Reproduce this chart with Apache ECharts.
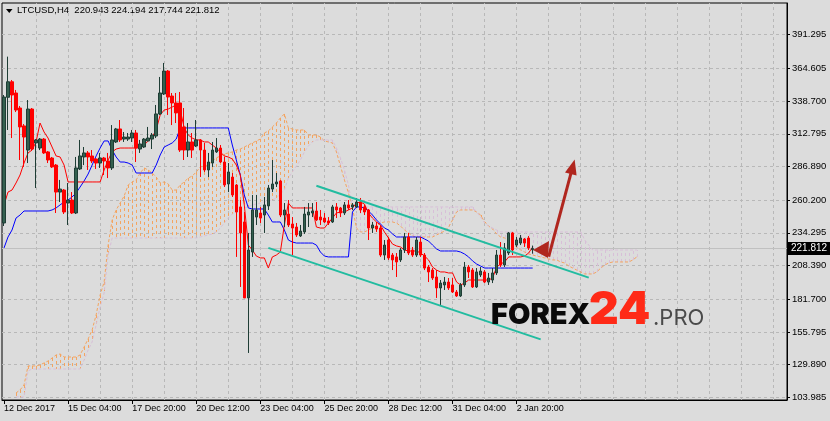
<!DOCTYPE html>
<html><head><meta charset="utf-8">
<script src="https://cdn.jsdelivr.net/npm/echarts@6/dist/echarts.min.js"></script>
<style>html,body{margin:0;padding:0;background:#dcdcdc}#c{width:830px;height:421px}</style>
</head><body><div id="c"></div>
<script>
// ---- data ----
const tickLabels = ['12 Dec 2017','15 Dec 04:00','17 Dec 20:00','20 Dec 12:00','23 Dec 04:00','25 Dec 20:00','28 Dec 12:00','31 Dec 04:00','2 Jan 20:00'];
const tickBars = [0,16,32,48,64,80,96,112,128];
const yTicks = [103.985,129.890,155.795,181.700,208.390,234.295,260.200,286.890,312.795,338.700,364.605,391.295];
const titleText = 'LTCUSD,H4  220.943 224.194 217.744 221.812';
const lastClose = 221.812;
// [open, close, low, high]
const ohlc = [
[242.1,341.9,239.7,343.5],[341.7,354.0,315.8,373.9],[354.0,343.5,309.4,355.4],[345.1,331.6,330.0,347.5],[333.2,318.2,292.0,334.8],
[319.0,310.2,286.5,320.5],[299.9,332.4,289.6,339.5],[332.4,300.7,299.1,333.2],[305.5,307.9,269.8,308.6],[301.5,308.6,299.9,309.4],
[308.6,297.6,296.8,309.4],[298.4,292.0,289.6,299.1],[293.6,286.5,285.7,294.4],[288.0,266.6,250.0,288.8],[266.6,269.0,258.7,276.2],
[268.2,250.8,249.2,269.0],[257.9,260.3,240.5,273.8],[260.3,250.0,249.2,266.6],[250.0,285.7,249.2,294.4],[284.9,295.2,284.1,307.9],
[294.4,297.6,288.0,302.3],[297.6,294.4,284.1,299.1],[295.2,291.2,289.6,299.9],[292.8,289.6,284.9,293.6],[289.6,293.6,285.7,297.6],
[293.6,291.2,280.1,294.4],[291.2,285.7,277.7,297.6],[285.7,307.9,284.1,319.7],[306.3,316.6,305.5,317.4],[316.6,307.9,306.3,323.7],
[308.6,310.2,306.3,314.2],[308.6,310.2,307.1,313.4],[309.4,313.4,306.3,315.8],[313.4,301.5,290.4,315.8],[300.7,304.7,297.6,307.9],
[302.3,308.6,301.5,309.4],[307.1,309.4,307.1,318.2],[308.6,311.8,300.7,313.4],[311.0,328.5,309.4,335.6],[328.5,345.1,327.7,357.8],
[344.3,362.5,343.5,368.9],[362.5,341.9,327.7,363.3],[342.7,337.2,319.7,345.1],[337.2,329.3,321.3,345.1],[337.2,299.9,298.4,345.9],
[318.2,299.9,292.0,333.2],[299.9,306.3,294.4,321.3],[306.3,299.9,293.6,313.4],[303.1,307.9,302.3,323.7],[307.9,299.9,278.5,308.6],
[299.9,284.1,282.5,305.5],[284.1,290.4,278.5,297.6],[289.6,299.9,286.5,306.3],[298.4,301.5,297.6,309.4],[301.5,290.4,289.6,303.9],
[290.4,272.2,270.6,294.4],[273.0,282.5,266.6,289.6],[278.5,264.3,262.7,281.7],[272.2,250.8,215.2,273.0],[254.8,234.2,191.4,260.3],
[242.9,182.7,182.7,250.8],[182.7,220.7,139.1,234.2],[219.1,252.4,215.2,264.3],[246.8,252.4,240.5,264.3],[250.0,246.0,242.1,254.8],
[248.4,256.4,234.2,262.7],[255.6,269.8,252.4,272.2],[269.0,273.0,266.6,292.0],[273.0,274.6,270.6,281.7],[275.4,248.4,246.8,276.2],
[248.4,252.4,238.9,257.9],[249.2,240.5,238.9,260.3],[241.3,238.1,216.7,246.8],[238.9,232.6,231.0,242.1],[231.8,235.7,231.0,240.5],
[235.0,249.2,233.4,254.8],[248.4,250.8,238.9,257.9],[250.0,251.6,246.8,257.9],[251.6,244.5,243.7,258.7],[246.8,244.5,240.5,252.4],
[246.0,242.9,242.1,250.0],[243.7,242.1,240.5,246.8],[242.9,254.8,242.1,256.4],[254.8,252.4,246.0,257.9],[254.0,250.0,246.8,254.8],
[250.0,256.4,248.4,258.7],[256.4,254.0,252.4,260.3],[254.8,256.4,252.4,257.9],[254.8,258.7,254.0,261.9],[258.7,252.4,250.0,261.9],
[254.8,250.8,248.4,256.4],[252.4,238.1,228.6,253.2],[238.1,240.5,234.2,242.9],[239.7,237.3,235.0,242.9],[238.1,216.7,215.2,240.5],
[216.7,224.6,212.8,228.6],[228.6,214.4,212.8,231.0],[216.7,212.8,204.8,218.3],[215.2,211.2,199.3,218.3],[212.8,220.7,211.2,222.3],
[220.7,231.0,218.3,234.2],[231.0,218.3,216.7,234.2],[220.7,216.7,215.2,223.1],[216.7,228.6,215.2,231.0],[227.0,216.7,215.2,231.0],
[216.7,206.4,204.8,218.3],[207.2,203.3,195.3,208.8],[204.8,198.5,196.9,206.4],[199.3,190.6,182.7,204.8],[190.6,194.5,177.1,196.9],
[193.0,195.3,189.0,199.3],[195.3,190.6,189.0,198.5],[193.0,187.4,186.6,198.5],[187.4,184.3,183.5,189.0],[184.3,193.0,183.5,194.5],
[193.0,207.2,191.4,211.2],[207.2,203.3,198.5,208.8],[204.8,191.4,190.6,206.4],[191.4,203.3,190.6,206.4],[200.9,204.0,199.3,207.2],
[203.3,195.3,194.5,204.8],[195.3,198.5,193.0,202.5],[196.9,202.5,194.5,206.4],[202.5,216.7,200.9,220.7],[216.7,208.8,207.2,227.0],
[208.8,222.3,207.2,226.2],[218.3,234.2,216.7,235.0],[234.2,220.7,216.7,235.0],[224.6,228.6,223.1,231.0],[226.2,230.2,224.6,232.6],
[229.4,226.2,223.1,230.2],[230.2,222.3,220.7,231.8],[220.943,221.812,217.744,224.194]
];
const tenkan = [
256.3,266.6,268.2,273.8,280.1,289.6,297.6,299.9,306.3,321.3,
314.2,309.4,302.3,295.2,294.4,288.0,274.6,274.6,274.6,274.6,
274.6,274.6,274.6,274.6,274.6,284.1,292.0,298.4,300.7,301.5,
301.5,301.5,301.5,301.5,302.3,303.9,307.1,310.2,315.8,327.7,
331.6,332.4,334.0,335.6,331.6,317.4,311.8,309.4,307.9,307.9,
306.3,306.3,303.9,301.5,298.4,295.2,294.4,292.8,288.0,280.1,
256.3,224.6,220.7,215.9,214.4,214.4,206.4,215.2,216.7,219.1,
240.5,257.9,254.0,254.0,254.0,254.0,254.0,254.0,238.9,238.1,
238.1,242.1,246.0,250.0,250.8,250.8,252.4,254.0,257.9,258.7,
257.1,250.0,246.0,242.9,240.5,234.9,230.2,225.4,223.9,223.1,
220.7,219.9,219.9,219.9,218.3,215.9,212.8,207.2,204.8,203.3,
203.3,202.5,202.5,195.3,193.0,194.5,196.9,196.9,196.9,196.9,
196.9,196.9,198.5,207.2,209.6,211.2,215.2,215.2,215.2,215.2,
215.9,218.3,223.1
];
const kijun = [
222.3,231.0,236.5,246.0,248.4,251.6,251.6,251.6,251.6,251.6,
251.6,251.6,252.4,254.0,256.4,258.7,260.3,262.7,265.9,270.6,
275.4,280.9,288.0,295.2,301.5,307.1,307.1,299.9,294.4,290.4,
290.4,289.6,288.0,281.7,281.7,281.7,281.7,281.7,288.0,296.0,
302.3,303.9,305.5,308.6,317.4,317.4,317.4,317.4,317.4,317.4,
317.4,317.4,317.4,317.4,317.4,317.4,317.4,303.9,292.0,280.1,
264.3,254.0,253.2,253.2,253.2,253.2,248.4,242.9,242.9,242.9,
236.5,228.6,227.0,226.2,226.2,226.2,226.2,226.2,224.6,219.1,
215.9,215.2,215.2,215.2,215.2,215.2,215.2,250.8,254.8,254.8,
254.0,251.6,248.4,244.5,241.3,238.1,236.5,233.4,231.0,231.0,
231.0,231.0,231.0,231.0,231.0,229.4,227.8,224.6,221.5,219.9,
219.9,219.9,219.9,219.9,219.1,217.5,215.2,212.0,209.6,208.0,
206.4,206.4,206.4,206.4,206.4,206.4,206.4,206.4,206.4,206.4,
206.4,206.4,206.4
];
const cloudStart = 3; // first bar index of the cloud
const spanA = [
107.4,109.8,113.7,128.8,128.8,128.8,129.6,131.2,132.7,135.1,137.5,138.3,135.9,135.9,135.9,135.9,137.5,
143.8,150.2,157.3,169.2,185.0,195.3,224.6,244.5,252.4,257.9,263.5,272.2,274.6,276.2,281.7,285.7,284.1,
281.7,278.5,273.8,274.6,273.0,268.2,268.2,272.2,274.6,277.7,279.3,282.5,286.5,287.3,288.0,291.2,293.6,
295.2,296.8,297.6,298.4,299.9,300.7,302.3,303.9,305.5,307.1,308.6,313.4,315.0,318.2,321.3,325.3,328.5,
317.4,316.6,315.8,315.8,315.8,311.8,311.8,311.8,310.2,307.1,306.3,305.5,298.4,287.3,276.2,265.9,254.0,
238.1,235.0,235.0,236.5,238.1,239.7,242.1,242.9,242.9,242.9,242.1,239.7,236.5,234.2,231.8,231.0,231.0,
231.0,231.0,231.0,232.6,234.2,235.7,238.9,244.5,250.8,252.4,252.4,252.4,252.4,250.8,248.4,242.9,239.7,
237.3,233.4,231.0,230.2,227.8,225.4,223.1,220.7,219.1,217.5,216.7,215.9,215.2,214.4,213.6,212.8,212.8,
211.2,210.4,208.0,206.4,204.8,203.3,201.7,201.7,201.7,203.3,206.4,208.8,210.4,211.2,211.2,211.2,211.2,
211.2,212.8,215.2
];
const spanB = [
104.2,104.2,104.2,124.8,126.4,126.4,126.4,126.4,126.4,126.4,126.4,126.4,126.4,126.4,126.4,126.4,126.4,
133.5,141.4,147.8,161.3,175.5,186.6,216.7,
230.2,230.2,230.2,230.2,230.2,230.2,230.2,230.2,230.2,230.2,230.2,230.2,230.2,230.2,230.2,230.2,230.2,
230.2,230.2,230.2,230.2,230.2,
231.0,231.8,232.6,233.4,235.0,238.1,242.1,246.0,249.2,250.8,252.4,254.0,254.8,256.4,257.1,257.9,258.7,
259.5,260.3,261.9,265.1,268.2,277.7,282.5,287.3,292.0,298.4,303.1,306.3,307.9,307.9,307.9,307.9,307.9,
301.5,293.6,284.1,272.2,
254.8,254.8,254.8,254.8,254.8,254.8,254.8,254.8,254.8,254.8,254.8,254.8,254.8,254.8,254.8,254.8,254.8,
254.8,254.8,254.8,254.8,254.8,254.8,254.8,254.8,254.8,254.8,254.8,254.8,254.8,254.8,
250.8,246.8,242.1,239.7,238.1,236.5,
235.0,235.0,235.0,235.0,235.0,235.0,235.0,235.0,235.0,235.0,235.0,235.0,235.0,235.0,235.0,235.0,235.0,
235.0,235.0,235.0,235.0,
228.6,224.6,
220.7,220.7,220.7,220.7,220.7,220.7,220.7,220.7,220.7,220.7,220.7,220.7
];
// annotation lines drawn on the chart: [barIndex, price]
const channelUpper = [[78, 271.6], [146, 198.8]];
const channelLower = [[66, 222.4], [134, 149.9]];
const arrowLine = [[136, 215.4], [142, 286.7]];

// ---- chart ----
const N_CATS = 196;
const cats = Array.from({length: N_CATS}, (_, i) => String(i));
const FONT = "'Liberation Sans','Arial',sans-serif";
const gridBars = [];
for (let i = 8; i < N_CATS; i += 8) gridBars.push(String(i));
const isTick = (i) => tickBars.indexOf(i) >= 0;

const cloudData = spanA.map((a, k) => [k + cloudStart, a, spanB[k]]);
const spanAData = spanA.map((a, k) => [k + cloudStart, a]);
const spanBData = spanB.map((b, k) => [k + cloudStart, b]);

const chart = echarts.init(document.getElementById('c'));
chart.setOption({
  animation: false,
  backgroundColor: '#dcdcdc',
  grid: { left: 2, right: 43, top: 3, bottom: 21, show: true, borderColor: '#000', borderWidth: 1, backgroundColor: '#dcdcdc' },
  xAxis: {
    type: 'category', data: cats, boundaryGap: true,
    axisLine: { show: true, lineStyle: { color: '#000', width: 1 } },
    axisTick: { show: true, alignWithLabel: true, interval: (i) => isTick(i), length: 4, lineStyle: { color: '#000' } },
    axisLabel: { interval: (i) => isTick(i), formatter: (v, i) => tickLabels[tickBars.indexOf(i)] || '',
      align: 'left', margin: 4, color: '#000', fontSize: 9, fontFamily: FONT, hideOverlap: false },
    splitLine: { show: false }
  },
  yAxis: {
    type: 'value', position: 'right', min: 101.83, max: 416.41, scale: true,
    axisLine: { show: true, lineStyle: { color: '#000' } },
    axisTick: { show: true, customValues: yTicks, length: 3, lineStyle: { color: '#000' } },
    axisLabel: { customValues: yTicks, formatter: (v) => v.toFixed(3), margin: 5, color: '#000', fontSize: 9.5, fontFamily: FONT },
    splitLine: { show: false }
  },
  graphic: [
    { type: 'polygon', shape: { points: [[6, 9], [12.5, 9], [9.25, 13]] }, style: { fill: '#000' } },
    { type: 'text', left: 17, top: 5, style: { text: titleText, fill: '#000', font: '9.5px ' + FONT } },
    { type: 'polygon', z: 10, shape: { points: [[533, 250], [549, 241], [548, 258]] }, style: { fill: '#b0261e' } },
    { type: 'text', z: 10, x: 491, y: 315.5, style: { text: 'FOREX', fill: '#0a0a0a', font: '900 29px Inter, Lato, sans-serif', verticalAlign: 'middle' } },
    { type: 'text', z: 10, x: 589, y: 310.5, style: { text: '24', fill: '#ff2a17', font: '900 46px Inter, Lato, sans-serif', verticalAlign: 'middle' } },
    { type: 'text', z: 10, x: 653, y: 318, style: { text: '.PRO', fill: '#4a4a4a', font: '400 22px Inter, Lato, sans-serif', verticalAlign: 'middle' } }
  ],
  series: [
    { // grid lines + current price line
      type: 'line', data: [], silent: true, z: 1,
      markLine: {
        z: 1, silent: true, symbol: ['none', 'none'], animation: false,
        label: { show: false },
        lineStyle: { color: '#b8b8b8', type: [3, 3], width: 1 },
        emphasis: { disabled: true },
        data: yTicks.map(v => ({ yAxis: v })).concat(gridBars.map(c => ({ xAxis: c }))).concat([{
          yAxis: lastClose,
          lineStyle: { color: '#c0c0c0', type: 'solid', width: 1 },
          label: { show: true, position: 'end', distance: 1, formatter: () => lastClose.toFixed(3),
            backgroundColor: '#000', color: '#fff', padding: [2, 3, 1, 3], fontSize: 10, fontFamily: FONT }
        }])
      }
    },
    { // cloud hatching
      type: 'custom', silent: true, z: 2, clip: true,
      data: cloudData,
      encode: { x: 0, y: [1, 2] },
      renderItem: (params, api) => {
        const i = api.value(0), a = api.value(1), b = api.value(2);
        const p1 = api.coord([i, a]), p2 = api.coord([i, b]);
        const x = Math.round(p1[0]) + 0.5;
        return { type: 'line', silent: true,
          shape: { x1: x, y1: p1[1], x2: x, y2: p2[1] },
          style: { stroke: a >= b ? '#f4a460' : '#d8bfd8', lineWidth: 1, lineDash: [3, 3] } };
      }
    },
    { type: 'line', data: spanAData, symbol: 'none', silent: true, z: 3,
      lineStyle: { color: '#f4a460', width: 1, type: [3, 2] } },
    { type: 'line', data: spanBData, symbol: 'none', silent: true, z: 3,
      lineStyle: { color: '#d8bfd8', width: 1, type: [3, 2] } },
    { type: 'line', data: kijun, symbol: 'none', silent: true, z: 4,
      lineStyle: { color: '#0000ff', width: 1 } },
    { type: 'line', data: tenkan, symbol: 'none', silent: true, z: 4,
      lineStyle: { color: '#ff0000', width: 1 } },
    { type: 'candlestick', data: ohlc, barWidth: 3, z: 5, silent: true,
      itemStyle: { color: '#34604f', color0: '#ff0000', borderColor: '#1f3d35', borderColor0: '#ff0000', borderWidth: 1 },
      markLine: {
        z: 6, silent: true, symbol: ['none', 'none'], animation: false,
        label: { show: false },
        emphasis: { disabled: true },
        data: [
          [{ coord: channelUpper[0], lineStyle: { color: '#22bca0', width: 2, type: 'solid' } }, { coord: channelUpper[1] }],
          [{ coord: channelLower[0], lineStyle: { color: '#22bca0', width: 2, type: 'solid' } }, { coord: channelLower[1] }],
          [{ coord: arrowLine[0], symbol: 'none', lineStyle: { color: '#b0261e', width: 3, type: 'solid' } },
           { coord: arrowLine[1], symbol: 'triangle', symbolSize: [12, 15] }]
        ]
      }
    }
  ]
});
</script>
</body></html>
